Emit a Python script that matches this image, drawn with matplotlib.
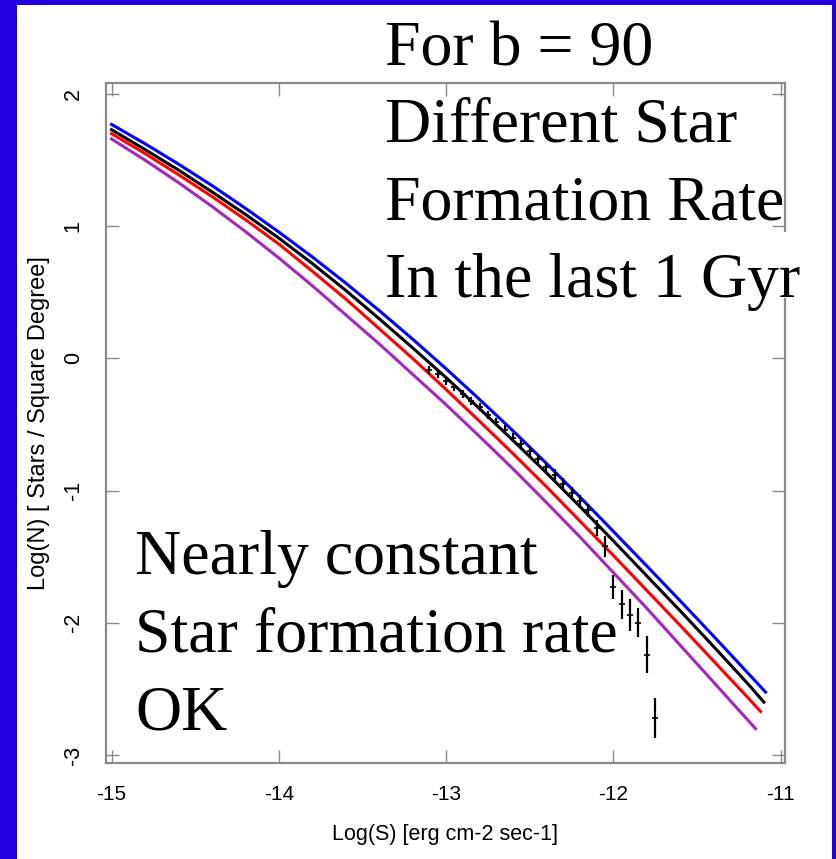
import matplotlib.pyplot as plt
from matplotlib.patches import Rectangle

# model number counts, one curve per star formation history
x_blue = [-15.0, -14.8, -14.6, -14.4, -14.2, -14.0, -13.8, -13.6, -13.4, -13.2, -13.0,
          -12.8, -12.6, -12.4, -12.2, -12.0, -11.8, -11.6, -11.4, -11.2, -11.09]
y_blue = [1.77, 1.624, 1.470, 1.308, 1.136, 0.956, 0.768, 0.570, 0.362, 0.146, -0.078,
          -0.31, -0.548, -0.794, -1.048, -1.308, -1.570, -1.834, -2.102, -2.374, -2.524]

x_black = [-15.0, -14.8, -14.6, -14.4, -14.2, -14.0, -13.8, -13.6, -13.4, -13.2, -13.0,
           -12.8, -12.6, -12.4, -12.2, -12.0, -11.8, -11.6, -11.4, -11.2, -11.10]
y_black = [1.73, 1.58, 1.425, 1.26, 1.09, 0.91, 0.718, 0.515, 0.30, 0.08, -0.145,
           -0.38, -0.62, -0.865, -1.12, -1.38, -1.645, -1.91, -2.18, -2.455, -2.60]

x_red = [-15.0, -14.8, -14.6, -14.4, -14.2, -14.0, -13.8, -13.6, -13.4, -13.2, -13.0,
         -12.8, -12.6, -12.4, -12.2, -12.0, -11.8, -11.6, -11.4, -11.2, -11.12]
y_red = [1.70, 1.55, 1.39, 1.225, 1.05, 0.865, 0.66, 0.45, 0.225, 0.0, -0.235,
         -0.475, -0.72, -0.97, -1.23, -1.49, -1.755, -2.02, -2.29, -2.56, -2.67]

x_purple = [-15.0, -14.8, -14.6, -14.4, -14.2, -14.0, -13.8, -13.6, -13.4, -13.2, -13.0,
            -12.8, -12.6, -12.4, -12.2, -12.0, -11.8, -11.6, -11.4, -11.15]
y_purple = [1.66, 1.50, 1.33, 1.15, 0.96, 0.76, 0.55, 0.33, 0.11, -0.12, -0.35,
            -0.59, -0.835, -1.09, -1.35, -1.62, -1.89, -2.17, -2.45, -2.80]

# observed counts
x_obs = [-13.10, -13.05, -13.00, -12.95, -12.90, -12.85, -12.80, -12.75, -12.70, -12.65,
         -12.60, -12.55, -12.50, -12.45, -12.40, -12.35, -12.30, -12.25, -12.20, -12.15,
         -12.10, -12.05, -12.00, -11.95, -11.90, -11.85, -11.80, -11.75]
y_obs = [-0.09, -0.12, -0.17, -0.22, -0.27, -0.32, -0.37, -0.43, -0.48, -0.54,
         -0.60, -0.65, -0.70, -0.76, -0.82, -0.88, -0.95, -1.02, -1.08, -1.15,
         -1.28, -1.42, -1.73, -1.86, -1.94, -2.00, -2.24, -2.72]
err_obs = [0.03, 0.03, 0.03, 0.03, 0.03, 0.03, 0.03, 0.03, 0.03, 0.035,
           0.035, 0.035, 0.035, 0.04, 0.04, 0.04, 0.045, 0.045, 0.05, 0.05,
           0.06, 0.08, 0.09, 0.11, 0.12, 0.11, 0.14, 0.15]

xticks = [-15, -14, -13, -12, -11]
yticks = [2, 1, 0, -1, -2, -3]

fig = plt.figure(figsize=(8.37, 8.59), dpi=100, facecolor='#2200dd')
# white slide area inside the blue frame
fig.add_artist(Rectangle((17/837, 0), 815/837, 854/859, transform=fig.transFigure,
                         facecolor='white', edgecolor='none', zorder=-1))

ax = fig.add_axes([106/837, 1 - 763/859, 679/837, 680/859])
ax.plot(x_blue, y_blue, color='#0000ff', lw=2.2)
ax.plot(x_black, y_black, color='black', lw=2.2)
ax.plot(x_red, y_red, color='#ff0000', lw=2.2)
ax.plot(x_purple, y_purple, color='#a626c0', lw=2.2)
ax.errorbar(x_obs, y_obs, yerr=err_obs, fmt='_', color='black', ms=5, mew=1.2,
            elinewidth=1.6, capsize=0)

ax.set_xlim(-15.033, -10.974)
ax.set_ylim(-3.06, 2.083)
sans = 'Liberation Sans'
ax.set_xticks(xticks)
ax.set_xticklabels([str(t) for t in xticks], family=sans, fontsize=15)
ax.set_yticks(yticks)
ax.set_yticklabels([str(t) for t in yticks], family=sans, fontsize=15.5,
                   rotation=90, va='center')
ax.tick_params(direction='in', length=9.5, width=1, color='#8a8a8a',
               top=True, right=True)
ax.tick_params(axis='x', pad=16)
ax.tick_params(axis='y', pad=16)
for s in ax.spines.values():
    s.set_color('#8a8a8a')
    s.set_linewidth(1.6)

ax.set_xlabel('Log(S) [erg cm-2 sec-1]', family=sans, fontsize=15.5)
ax.set_ylabel('Log(N) [ Stars / Square Degree]', family=sans, fontsize=17)
ax.xaxis.set_label_coords(0.5, -0.089)
ax.yaxis.set_label_coords(-0.083, 0.5)

serif = 'Liberation Serif'
fs = 46
# white box behind the last line of the heading
fig.add_artist(Rectangle((380/837, 1 - 298/859), 425/837, 66/859, transform=fig.transFigure,
                         facecolor='white', edgecolor='none', zorder=2))
for txt, base in [('For b = 90', 65), ('Different Star', 142),
                  ('Formation Rate', 220), ('In the last 1 Gyr', 297)]:
    fig.text(385/837, 1 - base/859, txt, family=serif, fontsize=fs, va='baseline', zorder=3)
for txt, base in [('Nearly constant', 574), ('Star formation rate', 652), ('OK', 730)]:
    fig.text(135/837, 1 - base/859, txt, family=serif, fontsize=fs, va='baseline', zorder=3)

fig.savefig('out.png', dpi=100, facecolor=fig.get_facecolor())
